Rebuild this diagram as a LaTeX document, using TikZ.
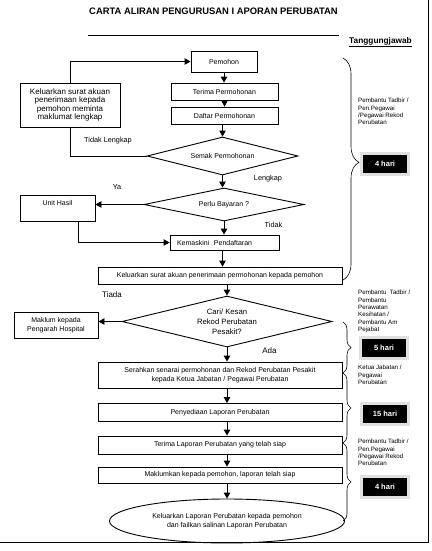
\documentclass[tikz,border=0pt]{standalone}
\usepackage{fontspec}
\setmainfont{Liberation Sans}
\usetikzlibrary{arrows.meta,positioning,shapes.geometric,decorations.pathreplacing}

\begin{document}
\begin{tikzpicture}[x=1pt, y=-1pt,
    box/.style={draw, line width=0.9pt, inner sep=2pt, align=center, font=\fontsize{7}{9}\selectfont},
    decision/.style={draw, diamond, aspect=4, line width=0.9pt, inner sep=0pt, align=center, font=\fontsize{7}{9}\selectfont},
    endnode/.style={draw, ellipse, line width=0.9pt, inner sep=0pt, align=center, font=\fontsize{7}{9}\selectfont},
    lbl/.style={font=\fontsize{7.3}{9}\selectfont, inner sep=0pt},
    role/.style={font=\fontsize{6.2}{7.4}\selectfont, align=left, inner sep=0pt, anchor=north west},
    hari/.style={fill=black, text=white, font=\bfseries\fontsize{7.5}{9}\selectfont, minimum width=44pt, minimum height=18pt, inner sep=0pt, preaction={draw=black!12, line width=6pt}},
    bracket/.style={decorate, line width=0.6pt},
    arr/.style={-{Triangle[length=6pt,width=6.5pt]}, line width=0.9pt}
  ]
    \useasboundingbox (0,0) rectangle (431,551);

    % title and frame
    \node[font=\bfseries\fontsize{9.4}{11}\selectfont] (judul) at (213.5,11) {CARTA ALIRAN PENGURUSAN I APORAN PERUBATAN};
    \draw[line width=0.9pt] (88,35) -- (339,35);
    \draw[line width=0.9pt] (428,0) -- (428,542) -- (0,542);
    \node[font=\bfseries\fontsize{8.3}{10}\selectfont] (tanggung) at (380.5,42) {\underline{Tanggungjawab}};

    % main column
    \node[box, minimum width=66pt, minimum height=21pt] (pemohon) at (224,61.5) {Pemohon};
    \node[box, minimum width=107pt, minimum height=17pt] (terima) at (224.5,91.5) {Terima Permohonan};
    \node[box, minimum width=107pt, minimum height=17pt] (daftar) at (224.5,115.5) {Daftar Permohonan};
    \node[box, minimum width=100pt, minimum height=44pt, font=\fontsize{8}{8.5}\selectfont] (lengkapbox) at (70,105)
      {Keluarkan surat akuan\\penerimaan kepada\\pemohon meminta\\maklumat lengkap};
    \node[decision, minimum width=151pt, minimum height=38pt] (semak) at (222.5,156) {Semak Permohonan};
    \node[decision, minimum width=160pt, minimum height=33pt] (bayaran) at (224,204.5) {Perlu Bayaran ?};
    \node[draw, line width=0.9pt, font=\fontsize{7}{9}\selectfont, minimum width=75pt, minimum height=26pt, text depth=10pt] (hasil) at (57.5,208) {Unit Hasil};
    \node[box, minimum width=109pt, minimum height=15pt, text width=95pt, inner xsep=7pt, align=left] (kemaskini) at (224.5,242.5) {Kemaskini\ \ Pendaftaran};
    \node[box, minimum width=244pt, minimum height=17pt] (akuan) at (220,275.5) {Keluarkan surat akuan penerimaan permohonan kepada pemohon};
    \node[decision, minimum width=210pt, minimum height=51pt, font=\fontsize{7.7}{10}\selectfont] (cari) at (227,321.5) {Cari/ Kesan\\Rekod Perubatan\\Pesakit?};
    \node[box, minimum width=84pt, minimum height=26pt] (maklum) at (56,325) {Maklum kepada\\Pengarah Hospital};
    \node[box, minimum width=244pt, minimum height=26pt] (serahkan) at (220,375)
      {Serahkan senarai permohonan dan Rekod Perubatan Pesakit\\kepada Ketua Jabatan / Pegawai Perubatan};
    \node[box, minimum width=244pt, minimum height=18pt] (sedia) at (220,412.5) {Penyediaan Laporan Perubatan};
    \node[box, minimum width=244pt, minimum height=18pt] (siap) at (220,445) {Terima Laporan Perubatan yang telah siap};
    \node[box, minimum width=244pt, minimum height=16pt] (maklumkan) at (220,475) {Maklumkan kepada pemohon, laporan telah siap};
    \node[endnode, minimum width=235pt, minimum height=44pt] (keluar) at (227,521)
      {Keluarkan Laporan Perubatan kepada pemohon\\dan failkan salinan Laporan Perubatan};

    % arrows
    \draw[arr] (pemohon.south) -- (pemohon.south |- terima.north);
    \draw[arr] (terima.south) -- (terima.south |- daftar.north);
    \draw[arr] (daftar.south -| semak.north) -- (semak.north);
    \draw[arr] (semak.south) -- (semak.south |- bayaran.north);
    \draw[line width=0.9pt] (semak.west) -| (lengkapbox.south);
    \draw[arr] (lengkapbox.north) |- (pemohon.west);
    \draw[arr] (bayaran.west) -- (bayaran.west -| hasil.east);
    \draw[arr] (bayaran.south) -- (bayaran.south |- kemaskini.north);
    \draw[arr] ([xshift=20.5pt]hasil.south) |- (kemaskini.west);
    \draw[arr] (kemaskini.south -| semak.south) -- (semak.south |- akuan.north);
    \draw[arr] (akuan.south -| cari.north) -- (cari.north);
    \draw[arr] (cari.west) -- (cari.west -| maklum.east);
    \draw[arr] (cari.south) -- (cari.south |- serahkan.north);
    \draw[arr] (cari.south |- serahkan.south) -- (cari.south |- sedia.north);
    \draw[arr] (cari.south |- sedia.south) -- (cari.south |- siap.north);
    \draw[arr] (cari.south |- siap.south) -- (cari.south |- maklumkan.north);
    \draw[arr] (cari.south |- maklumkan.south) -- (keluar.north);

    % labels on connectors
    \node[lbl, anchor=west] (tidaklengkap) at (84,141) {Tidak Lengkap};
    \node[lbl] (lengkap) at (268,178.5) {Lengkap};
    \node[lbl] (ya) at (117,187) {Ya};
    \node[lbl] (tidak) at (273.5,224.5) {Tidak};
    \node[lbl, font=\fontsize{8}{9}\selectfont] (tiada) at (112,295) {Tiada};
    \node[lbl, font=\fontsize{8}{9}\selectfont] (ada) at (269.5,351) {Ada};

    % responsibility braces
    \draw[bracket, decoration={brace, amplitude=16pt, aspect=0.47}] (343,58) -- (343,280);
    \draw[bracket, decoration={brace, amplitude=8pt}] (343,322) -- (343,373);
    \draw[bracket, decoration={brace, amplitude=8pt}] (343,373) -- (343,443);
    \draw[bracket, decoration={brace, amplitude=8pt}] (343,443) -- (343,521);

    \node[role] (tugas1) at (358,98) {Pembantu Tadbir /\\Pen.Pegawai\\/Pegawai Rekod\\Perubatan};
    \node[hari] (hari1) at (385,164) {4 hari};
    \node[role] (tugas2) at (358,290) {Pembantu\ \ Tadbir /\\Pembantu\\Perawatan\\Kesihatan /\\Pembantu Am\\Pejabat};
    \node[hari] (hari2) at (384,347.5) {5 hari};
    \node[role] (tugas3) at (358,365) {Ketua Jabatan /\\Pegawai\\Perubatan};
    \node[hari] (hari3) at (385,414) {15 hari};
    \node[role] (tugas4) at (358,439) {Pembantu Tadbir /\\Pen.Pegawai\\/Pegawai Rekod\\Perubatan};
    \node[hari] (hari4) at (385,487) {4 hari};
  \end{tikzpicture}
\end{document}
